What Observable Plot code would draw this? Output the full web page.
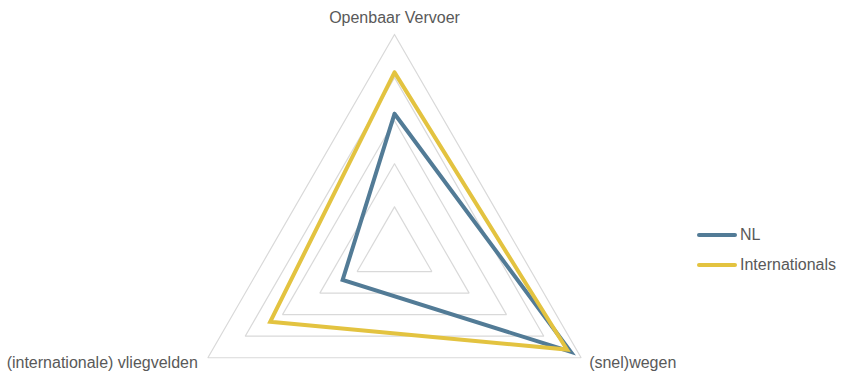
<!DOCTYPE html>
<html>
<head>
<meta charset="utf-8">
<script src="https://cdn.jsdelivr.net/npm/d3@7"></script>
<script src="https://cdn.jsdelivr.net/npm/@observablehq/plot@0.6"></script>
<style>
  html, body { margin: 0; padding: 0; background: #fff; }
  #wrap { position: relative; width: 843px; height: 374px; font-family: "Liberation Sans", Arial, sans-serif; }
  #legend { position: absolute; left: 697px; top: 220px; font-size: 16px; color: #595959; }
  .item { display: flex; align-items: center; height: 30px; }
  .sw { width: 40px; height: 4px; border-radius: 2px; margin-right: 3px; }
</style>
</head>
<body>
<div id="wrap"></div>
<script>
// Data
const axes = ["Openbaar Vervoer", "(snel)wegen", "(internationale) vliegvelden"];
const seriesNames = ["NL", "Internationals"];
const nlValues = [3.16, 4.72, 1.39];
const intlValues = [4.12, 4.62, 3.33];
const gridLevels = [1, 2, 3, 4, 5];
const maxValue = 5;

const colors = { "NL": "#527b96", "Internationals": "#e3c340" };

// geometry
const cx = 394, cy = 249.5, unit = 43.1, W = 843, H = 374;
const ang = i => (Math.PI / 2) - i * 2 * Math.PI / 3;
const pt = (i, r) => ({ x: r * Math.cos(ang(i)), y: r * Math.sin(ang(i)) });

const grid = [];
for (const lv of gridLevels) {
  for (let k = 0; k <= axes.length; k++) {
    const i = k % axes.length;
    grid.push({ level: lv, ...pt(i, lv) });
  }
}
const poly = (name, vals) => {
  const out = [];
  for (let k = 0; k <= vals.length; k++) {
    const i = k % vals.length;
    out.push({ series: name, ...pt(i, vals[i]) });
  }
  return out;
};
const nl = poly("NL", nlValues);
const intl = poly("Internationals", intlValues);
const labels = axes.map((a, i) => ({ label: a, i, ...pt(i, maxValue) }));

const chart = Plot.plot({
  width: W, height: H, margin: 0,
  style: { background: "#fff", fontFamily: "'Liberation Sans', Arial, sans-serif" },
  x: { domain: [-cx / unit, (W - cx) / unit], axis: null },
  y: { domain: [-(H - cy) / unit, cy / unit], axis: null },
  marks: [
    Plot.line(grid, { x: "x", y: "y", z: "level", stroke: "#d9d9d9", strokeWidth: 1.2, strokeLinejoin: "miter" }),
    Plot.line(nl, { x: "x", y: "y", stroke: colors["NL"], strokeWidth: 4, strokeLinejoin: "miter", strokeMiterlimit: 10 }),
    Plot.line(intl, { x: "x", y: "y", stroke: colors["Internationals"], strokeWidth: 4, strokeLinejoin: "miter", strokeMiterlimit: 10 }),
    Plot.text(labels.filter(d => d.i === 0), { x: "x", y: "y", text: "label", textAnchor: "middle", dy: -17, fontSize: 16, fill: "#595959" }),
    Plot.text(labels.filter(d => d.i === 1), { x: "x", y: "y", text: "label", textAnchor: "start", dx: 8, dy: 5, fontSize: 16, fill: "#595959" }),
    Plot.text(labels.filter(d => d.i === 2), { x: "x", y: "y", text: "label", textAnchor: "end", dx: -10, dy: 5, fontSize: 16, fill: "#595959" })
  ]
});

const wrap = document.getElementById("wrap");
wrap.appendChild(chart);
const legend = document.createElement("div");
legend.id = "legend";
for (const s of seriesNames) {
  const item = document.createElement("div");
  item.className = "item";
  const sw = document.createElement("div");
  sw.className = "sw";
  sw.style.background = colors[s];
  const t = document.createElement("span");
  t.textContent = s;
  item.appendChild(sw); item.appendChild(t);
  legend.appendChild(item);
}
wrap.appendChild(legend);
</script>
</body>
</html>
